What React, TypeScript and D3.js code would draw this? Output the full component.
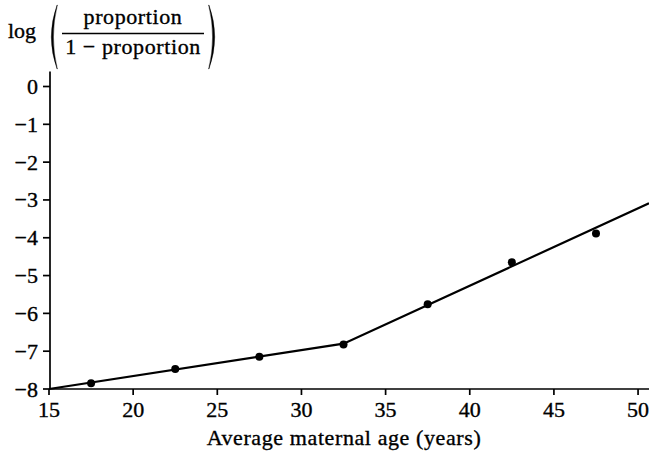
import React from "react";
import * as d3 from "d3";

// Observed log-odds by maternal age group
const ages = [17.5, 22.5, 27.5, 32.5, 37.5, 42.5, 47.5];
const logitProportion = [-7.85, -7.47, -7.15, -6.82, -5.76, -4.65, -3.89];

// Fitted broken-stick line
const fitAges = [15, 32.5, 50.65];
const fitLogit = [-8, -6.8, -3.09];

const xTicks = [15, 20, 25, 30, 35, 40, 45, 50];
const yTicks = [0, -1, -2, -3, -4, -5, -6, -7, -8];

const xTitle = "Average maternal age (years)";
const yNumerator = "proportion";
const yDenominator = "1 \u2212 proportion";

const W = 649;
const H = 455;
const FONT = "Liberation Serif, DejaVu Serif, serif";

const fmt = (v: number) => (v < 0 ? "\u2212" + Math.abs(v) : String(v));

export default function App() {
  const x = d3.scaleLinear().domain([15, 50.65]).range([49, 649]);
  const y = d3.scaleLinear().domain([-8, 0]).range([389, 86.5]);
  const axisX = 50;
  const axisY = y(-8);
  const yTop = y(0.4);

  const fitLine = d3
    .line<number>()
    .x((_, i) => x(fitAges[i]))
    .y((d) => y(d))(fitLogit);

  // Tall parentheses drawn as crescents
  const paren = (x0: number, top: number, bottom: number, dir: number) => {
    const mid = (top + bottom) / 2;
    const outer = x0 - dir * 11.5;
    const inner = x0 - dir * 7.5;
    return `M${x0},${top} Q${outer},${mid} ${x0},${bottom} L${x0 + dir * 0.4},${bottom} Q${inner},${mid} ${x0 + dir * 0.4},${top} Z`;
  };

  const textStyle = { fontFamily: FONT };

  return (
    <svg
      width={W}
      height={H}
      style={{ position: "fixed", left: 0, top: 0, background: "#fff", fontFamily: FONT }}
    >
      <rect width={W} height={H} fill="#fff" />

      {/* y title: log(p / (1 - p)) */}
      <g fill="#000" stroke="#000" strokeWidth={0.35} fontSize={22} style={textStyle}>
        <text x={8} y={38}>log</text>
        <path d={paren(57, 5, 69, 1)} />
        <text x={133} y={24} textAnchor="middle" letterSpacing={0.6}>
          {yNumerator}
        </text>
        <line x1={62} x2={204} y1={33.5} y2={33.5} strokeWidth={1.3} />
        <text x={133} y={54} textAnchor="middle" letterSpacing={0.6}>
          {yDenominator}
        </text>
        <path d={paren(209, 5, 69, -1)} />
      </g>

      {/* axes */}
      <g stroke="#000" strokeWidth={1.7} fill="none">
        <line x1={axisX} x2={axisX} y1={yTop} y2={axisY} />
        <line x1={x(15)} x2={W} y1={axisY} y2={axisY} />
        {yTicks.map((t) => (
          <line key={"yt" + t} x1={axisX - 7} x2={axisX} y1={y(t)} y2={y(t)} />
        ))}
        {xTicks.map((t) => (
          <line key={"xt" + t} x1={x(t)} x2={x(t)} y1={axisY} y2={axisY + 6} />
        ))}
      </g>

      <g fill="#000" stroke="#000" strokeWidth={0.35} fontSize={22} style={textStyle}>
        {yTicks.map((t) => (
          <text key={"yl" + t} x={38} y={y(t) + 7.5} textAnchor="end">
            {fmt(t)}
          </text>
        ))}
        {xTicks.map((t) => (
          <text key={"xl" + t} x={x(t)} y={417} textAnchor="middle">
            {fmt(t)}
          </text>
        ))}
        <text x={344} y={445} textAnchor="middle" letterSpacing={0.6}>
          {xTitle}
        </text>
      </g>

      {/* fitted line and observed points */}
      <path d={fitLine ?? ""} fill="none" stroke="#000" strokeWidth={2.2} />
      <g fill="#000">
        {ages.map((a, i) => (
          <circle key={"p" + a} cx={x(a)} cy={y(logitProportion[i])} r={4} />
        ))}
      </g>
    </svg>
  );
}
